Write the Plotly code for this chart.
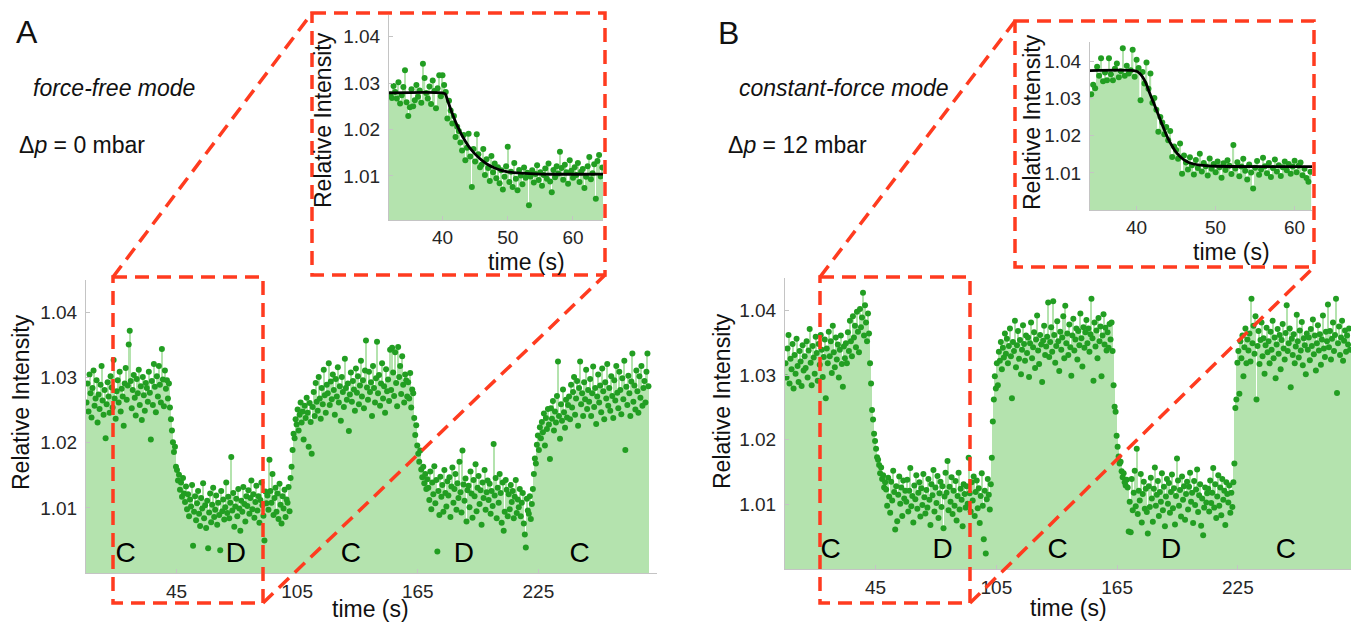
import plotly.graph_objects as go

# ---------------- data ----------------
# main panels: samples every 0.5 s starting at 0.25 s
MAIN_T0 = 0.25
MAIN_DT = 0.5

a_main = [
 1.0262, 1.0291, 1.0248, 1.0305, 1.0276, 1.0239, 1.0284, 1.0311, 1.0257, 1.0268,
 1.0296, 1.0231, 1.0274, 1.0252, 1.0289, 1.0318, 1.0265, 1.0243, 1.0281, 1.0207,
 1.0259, 1.0293, 1.0271, 1.0246, 1.0302, 1.0285, 1.0254, 1.0327, 1.0268, 1.0237,
 1.0279, 1.0296, 1.0262, 1.0309, 1.0248, 1.0283, 1.0271, 1.0226, 1.0291, 1.0315,
 1.0266, 1.0288, 1.0351, 1.0372, 1.0295, 1.0253, 1.0281, 1.0304, 1.0269, 1.0242,
 1.0298, 1.0276, 1.0312, 1.0258, 1.0287, 1.0235, 1.0301, 1.0273, 1.0249, 1.0292,
 1.0284, 1.0263, 1.0309, 1.0277, 1.0205, 1.0295, 1.0258, 1.0321, 1.0286, 1.0247,
 1.0302, 1.0271, 1.0318, 1.0289, 1.0262, 1.0344, 1.0297, 1.0256, 1.0311, 1.0283,
 1.0296, 1.0268, 1.0291, 1.0254, 1.0236, 1.0219, 1.0201, 1.0186, 1.0194, 1.0163,
 1.0158, 1.0142, 1.0151, 1.0128, 1.0139, 1.0117, 1.0146, 1.0122, 1.0109, 1.0133,
 1.0098, 1.0121, 1.0087, 1.0113, 1.0102, 1.0135, 1.0042, 1.0094, 1.0118, 1.0081,
 1.0107, 1.0126, 1.0091, 1.0072, 1.0115, 1.0099, 1.0138, 1.0084, 1.0104, 1.0069,
 1.0111, 1.0038, 1.0093, 1.0122, 1.0078, 1.0105, 1.0131, 1.0086, 1.0097, 1.0119,
 1.0074, 1.0108, 1.0089, 1.0035, 1.0126, 1.0095, 1.0113, 1.0082, 1.0101, 1.0139,
 1.0092, 1.0117, 1.0084, 1.0108, 1.0178, 1.0096, 1.0123, 1.0071, 1.0102, 1.0114,
 1.0087, 1.0129, 1.0099, 1.0065, 1.0111, 1.0094, 1.0132, 1.0106, 1.0079, 1.0118,
 1.0103, 1.0127, 1.0091, 1.0115, 1.0142, 1.0098, 1.0121, 1.0085, 1.0109, 1.0134,
 1.0096, 1.0118, 1.0077, 1.0112, 1.0139, 1.0104, 1.0088, 1.0050, 1.0125, 1.0107,
 1.0119, 1.0097, 1.0174, 1.0126, 1.0108, 1.0152, 1.0089, 1.0115, 1.0131, 1.0094,
 1.0122, 1.0083, 1.0137, 1.0105, 1.0076, 1.0118, 1.0099, 1.0128, 1.0086, 1.0113,
 1.0108, 1.0132, 1.0095, 1.0146, 1.0163, 1.0189, 1.0214, 1.0207, 1.0236, 1.0228,
 1.0251, 1.0219, 1.0243, 1.0262, 1.0231, 1.0248, 1.0205, 1.0257, 1.0238, 1.0269,
 1.0246, 1.0194, 1.0261, 1.0232, 1.0183, 1.0255, 1.0278, 1.0241, 1.0292, 1.0263,
 1.0249, 1.0301, 1.0268, 1.0237, 1.0284, 1.0259, 1.0312, 1.0273, 1.0246, 1.0289,
 1.0276, 1.0322, 1.0258, 1.0294, 1.0267, 1.0305, 1.0281, 1.0243, 1.0298, 1.0271,
 1.0316, 1.0262, 1.0287, 1.0234, 1.0301, 1.0278, 1.0255, 1.0329, 1.0284, 1.0266,
 1.0291, 1.0218, 1.0274, 1.0308, 1.0263, 1.0295, 1.0282, 1.0249, 1.0314, 1.0277,
 1.0302, 1.0259, 1.0288, 1.0326, 1.0271, 1.0296, 1.0253, 1.0311, 1.0357, 1.0285,
 1.0266, 1.0309, 1.0278, 1.0293, 1.0241, 1.0318, 1.0284, 1.0262, 1.0299, 1.0355,
 1.0276, 1.0304, 1.0257, 1.0291, 1.0322, 1.0268, 1.0287, 1.0246, 1.0313, 1.0279,
 1.0297, 1.0264, 1.0343, 1.0281, 1.0346, 1.0308, 1.0272, 1.0339, 1.0292, 1.0256,
 1.0347, 1.0301, 1.0318, 1.0275, 1.0333, 1.0289, 1.0262, 1.0305, 1.0296, 1.0271,
 1.0293, 1.0268, 1.0307, 1.0254, 1.0282, 1.0276, 1.0238, 1.0212, 1.0227, 1.0196,
 1.0183, 1.0171, 1.0188, 1.0159, 1.0147, 1.0163, 1.0138, 1.0152, 1.0129, 1.0144,
 1.0131, 1.0112, 1.0156, 1.0098, 1.0139, 1.0121, 1.0164, 1.0107, 1.0143, 1.0033,
 1.0126, 1.0089, 1.0148, 1.0117, 1.0135, 1.0094, 1.0158, 1.0123, 1.0102, 1.0141,
 1.0119, 1.0147, 1.0086, 1.0133, 1.0162, 1.0108, 1.0129, 1.0152, 1.0097, 1.0138,
 1.0115, 1.0171, 1.0124, 1.0093, 1.0188, 1.0136, 1.0111, 1.0145, 1.0079, 1.0127,
 1.0134, 1.0101, 1.0156, 1.0122, 1.0085, 1.0143, 1.0118, 1.0167, 1.0095, 1.0131,
 1.0149, 1.0106, 1.0127, 1.0074, 1.0139, 1.0115, 1.0158, 1.0097, 1.0124, 1.0142,
 1.0112, 1.0137, 1.0091, 1.0126, 1.0103, 1.0198, 1.0119, 1.0146, 1.0084, 1.0131,
 1.0108, 1.0152, 1.0123, 1.0077, 1.0139, 1.0065, 1.0094, 1.0143, 1.0128, 1.0087,
 1.0121, 1.0098, 1.0135, 1.0109, 1.0126, 1.0084, 1.0117, 1.0143, 1.0092, 1.0113,
 1.0101, 1.0129, 1.0087, 1.0108, 1.0123, 1.0076, 1.0059, 1.0039, 1.0114, 1.0096,
 1.0091, 1.0118, 1.0083, 1.0106, 1.0129, 1.0152, 1.0176, 1.0168, 1.0197, 1.0211,
 1.0189, 1.0224, 1.0207, 1.0232, 1.0216, 1.0245, 1.0196, 1.0238, 1.0221, 1.0252,
 1.0228, 1.0175, 1.0253, 1.0237, 1.0264, 1.0219, 1.0248, 1.0231, 1.0272, 1.0325,
 1.0241, 1.0206, 1.0259, 1.0234, 1.0282, 1.0247, 1.0223, 1.0266, 1.0239, 1.0258,
 1.0271, 1.0236, 1.0289, 1.0254, 1.0278, 1.0301, 1.0243, 1.0268, 1.0295, 1.0226,
 1.0284, 1.0325, 1.0259, 1.0276, 1.0241, 1.0293, 1.0267, 1.0312, 1.0252, 1.0281,
 1.0263, 1.0298, 1.0241, 1.0276, 1.0317, 1.0255, 1.0284, 1.0229, 1.0271, 1.0305,
 1.0262, 1.0288, 1.0247, 1.0314, 1.0279, 1.0236, 1.0293, 1.0268, 1.0321, 1.0257,
 1.0284, 1.0249, 1.0302, 1.0272, 1.0238, 1.0296, 1.0265, 1.0318, 1.0277, 1.0253,
 1.0309, 1.0281, 1.0244, 1.0299, 1.0267, 1.0326, 1.0189, 1.0286, 1.0258, 1.0303,
 1.0276, 1.0241, 1.0294, 1.0337, 1.0263, 1.0288, 1.0251, 1.0311, 1.0279, 1.0246,
 1.0302, 1.0269, 1.0318, 1.0257, 1.0284, 1.0295, 1.0262, 1.0309, 1.0337, 1.0287,
]

b_main = [
 1.0318, 1.0296, 1.0341, 1.0362, 1.0287, 1.0325, 1.0309, 1.0348, 1.0279, 1.0331,
 1.0302, 1.0356, 1.0314, 1.0289, 1.0337, 1.0321, 1.0283, 1.0346, 1.0307, 1.0329,
 1.0311, 1.0352, 1.0296, 1.0338, 1.0371, 1.0319, 1.0284, 1.0345, 1.0327, 1.0302,
 1.0359, 1.0334, 1.0291, 1.0348, 1.0316, 1.0362, 1.0339, 1.0297, 1.0328, 1.0355,
 1.0264, 1.0341, 1.0318, 1.0367, 1.0329, 1.0352, 1.0303, 1.0376, 1.0335, 1.0312,
 1.0358, 1.0324, 1.0347, 1.0296, 1.0339, 1.0361, 1.0317, 1.0282, 1.0344, 1.0326,
 1.0349, 1.0318, 1.0366, 1.0337, 1.0384, 1.0352, 1.0329, 1.0391, 1.0358, 1.0376,
 1.0343, 1.0398, 1.0367, 1.0335, 1.0402, 1.0374, 1.0389, 1.0427, 1.0361, 1.0408,
 1.0381, 1.0352, 1.0395, 1.0364, 1.0318, 1.0287, 1.0246, 1.0231, 1.0209, 1.0198,
 1.0186, 1.0173, 1.0169, 1.0161, 1.0148, 1.0157, 1.0139, 1.0145, 1.0126, 1.0134,
 1.0123, 1.0098, 1.0141, 1.0112, 1.0087, 1.0135, 1.0106, 1.0152, 1.0119, 1.0061,
 1.0128, 1.0074, 1.0115, 1.0143, 1.0101, 1.0126, 1.0082, 1.0137, 1.0109, 1.0121,
 1.0104, 1.0138, 1.0089, 1.0121, 1.0156, 1.0097, 1.0113, 1.0072, 1.0129, 1.0108,
 1.0145, 1.0093, 1.0118, 1.0134, 1.0081, 1.0125, 1.0099, 1.0147, 1.0111, 1.0086,
 1.0122, 1.0095, 1.0139, 1.0107, 1.0068, 1.0131, 1.0114, 1.0153, 1.0089, 1.0126,
 1.0102, 1.0144, 1.0079, 1.0117, 1.0135, 1.0096, 1.0128, 1.0063, 1.0112, 1.0149,
 1.0118, 1.0167, 1.0091, 1.0127, 1.0104, 1.0142, 1.0085, 1.0121, 1.0098, 1.0136,
 1.0075, 1.0113, 1.0149, 1.0092, 1.0124, 1.0107, 1.0066, 1.0131, 1.0116, 1.0095,
 1.0128, 1.0101, 1.0172, 1.0117, 1.0089, 1.0134, 1.0106, 1.0143, 1.0082, 1.0119,
 1.0137, 1.0094, 1.0125, 1.0071, 1.0113, 1.0148, 1.0098, 1.0046, 1.0121, 1.0024,
 1.0108, 1.0139, 1.0115, 1.0092, 1.0131, 1.0172, 1.0228, 1.0262, 1.0298, 1.0279,
 1.0318, 1.0284, 1.0336, 1.0322, 1.0351, 1.0309, 1.0342, 1.0327, 1.0364, 1.0333,
 1.0356, 1.0318, 1.0345, 1.0372, 1.0329, 1.0264, 1.0351, 1.0337, 1.0384, 1.0312,
 1.0346, 1.0368, 1.0325, 1.0354, 1.0301, 1.0339, 1.0377, 1.0348, 1.0322, 1.0361,
 1.0334, 1.0358, 1.0297, 1.0349, 1.0381, 1.0326, 1.0343, 1.0366, 1.0311, 1.0355,
 1.0392, 1.0338, 1.0317, 1.0362, 1.0347, 1.0289, 1.0353, 1.0376, 1.0331, 1.0344,
 1.0359, 1.0412, 1.0328, 1.0351, 1.0374, 1.0336, 1.0414, 1.0362, 1.0319, 1.0345,
 1.0383, 1.0352, 1.0306, 1.0367, 1.0339, 1.0358, 1.0391, 1.0326, 1.0407, 1.0349,
 1.0364, 1.0331, 1.0378, 1.0343, 1.0299, 1.0361, 1.0387, 1.0338, 1.0355, 1.0372,
 1.0324, 1.0368, 1.0346, 1.0395, 1.0357, 1.0313, 1.0374, 1.0342, 1.0366, 1.0385,
 1.0349, 1.0372, 1.0336, 1.0363, 1.0418, 1.0357, 1.0291, 1.0381, 1.0344, 1.0369,
 1.0326, 1.0388, 1.0352, 1.0375, 1.0298, 1.0361, 1.0394, 1.0347, 1.0373, 1.0338,
 1.0366, 1.0342, 1.0379, 1.0355, 1.0381, 1.0337, 1.0284, 1.0251, 1.0243, 1.0206,
 1.0189, 1.0174, 1.0163, 1.0166, 1.0151, 1.0142, 1.0148, 1.0134, 1.0129, 1.0138,
 1.0126, 1.0058, 1.0104, 1.0057, 1.0139, 1.0091, 1.0118, 1.0152, 1.0097, 1.0186,
 1.0085, 1.0121, 1.0106, 1.0147, 1.0072, 1.0116, 1.0135, 1.0093, 1.0124, 1.0088,
 1.0055, 1.0128, 1.0096, 1.0141, 1.0109, 1.0073, 1.0124, 1.0157, 1.0098, 1.0115,
 1.0136, 1.0082, 1.0119, 1.0104, 1.0148, 1.0091, 1.0127, 1.0066, 1.0112, 1.0139,
 1.0101, 1.0133, 1.0087, 1.0119, 1.0146, 1.0094, 1.0125, 1.0069, 1.0113, 1.0171,
 1.0137, 1.0098, 1.0122, 1.0081, 1.0143, 1.0107, 1.0128, 1.0076, 1.0116, 1.0135,
 1.0092, 1.0127, 1.0149, 1.0104, 1.0118, 1.0071, 1.0136, 1.0099, 1.0123, 1.0154,
 1.0088, 1.0114, 1.0131, 1.0067, 1.0109, 1.0052, 1.0095, 1.0126, 1.0103, 1.0117,
 1.0124, 1.0089, 1.0137, 1.0102, 1.0118, 1.0156, 1.0095, 1.0131, 1.0079, 1.0112,
 1.0145, 1.0098, 1.0126, 1.0083, 1.0139, 1.0107, 1.0121, 1.0068, 1.0134, 1.0116,
 1.0103, 1.0129, 1.0087, 1.0118, 1.0096, 1.0134, 1.0163, 1.0249, 1.0262, 1.0319,
 1.0337, 1.0271, 1.0352, 1.0326, 1.0361, 1.0298, 1.0343, 1.0372, 1.0318, 1.0355,
 1.0338, 1.0364, 1.0321, 1.0418, 1.0349, 1.0376, 1.0333, 1.0391, 1.0262, 1.0345,
 1.0368, 1.0317, 1.0354, 1.0381, 1.0329, 1.0357, 1.0302, 1.0346, 1.0373, 1.0335,
 1.0352, 1.0318, 1.0367, 1.0339, 1.0384, 1.0326, 1.0358, 1.0295, 1.0347, 1.0371,
 1.0333, 1.0362, 1.0309, 1.0354, 1.0379, 1.0341, 1.0324, 1.0365, 1.0408, 1.0337,
 1.0349, 1.0372, 1.0281, 1.0356, 1.0331, 1.0363, 1.0318, 1.0344, 1.0393, 1.0352,
 1.0327, 1.0369, 1.0338, 1.0382, 1.0315, 1.0357, 1.0346, 1.0301, 1.0364, 1.0339,
 1.0358, 1.0323, 1.0371, 1.0345, 1.0386, 1.0332, 1.0361, 1.0307, 1.0349, 1.0377,
 1.0338, 1.0363, 1.0316, 1.0355, 1.0392, 1.0341, 1.0328, 1.0367, 1.0352, 1.0409,
 1.0343, 1.0368, 1.0324, 1.0356, 1.0381, 1.0337, 1.0362, 1.0418, 1.0272, 1.0349,
 1.0375, 1.0331, 1.0358, 1.0384, 1.0322, 1.0353, 1.0369, 1.0336, 1.0361, 1.0347,
 1.0372, 1.0339,
]

# insets: samples every 0.25 s
INSET_DT = 0.25
A_INSET_T0 = 32.0
a_inset = [
 1.0276, 1.0268, 1.0294, 1.0281, 1.0267, 1.0302, 1.0256, 1.0274, 1.0292, 1.0328,
 1.0259, 1.0229, 1.0248, 1.0287, 1.0250, 1.0263, 1.0296, 1.0271, 1.0284, 1.0258,
 1.0342, 1.0311, 1.0279, 1.0267, 1.0293, 1.0255, 1.0306, 1.0283, 1.0246, 1.0289,
 1.0317, 1.0272, 1.0317, 1.0296,
 1.0281, 1.0224, 1.0262, 1.0241, 1.0213, 1.0229, 1.0184, 1.0206, 1.0197, 1.0172,
 1.0155, 1.0188, 1.0134, 1.0161, 1.0191, 1.0142, 1.0076, 1.0158, 1.0131, 1.0190,
 1.0147, 1.0119,
 1.0124, 1.0158, 1.0102, 1.0136, 1.0117, 1.0089, 1.0143, 1.0108, 1.0127, 1.0095,
 1.0119, 1.0084, 1.0112, 1.0071, 1.0098, 1.0121, 1.0163, 1.0087, 1.0109, 1.0076,
 1.0128, 1.0094, 1.0069, 1.0113, 1.0101, 1.0082, 1.0118, 1.0096, 1.0107, 1.0037,
 1.0099, 1.0112, 1.0086, 1.0104, 1.0123, 1.0091, 1.0108, 1.0079, 1.0102, 1.0116,
 1.0094, 1.0127, 1.0088, 1.0065, 1.0113, 1.0097, 1.0121, 1.0105, 1.0152, 1.0117,
 1.0092, 1.0124, 1.0108, 1.0083, 1.0134, 1.0111, 1.0096, 1.0119, 1.0102, 1.0128,
 1.0087, 1.0109, 1.0115, 1.0074, 1.0098, 1.0121, 1.0141, 1.0093, 1.0106, 1.0125,
 1.0051, 1.0132, 1.0145, 1.0099, 1.0118,
]

B_INSET_T0 = 34.25
b_inset = [
 1.0312, 1.0338, 1.0328, 1.0386, 1.0362, 1.0409, 1.0347, 1.0371, 1.0350, 1.0409,
 1.0366, 1.0350, 1.0381, 1.0395, 1.0358, 1.0374, 1.0436, 1.0362, 1.0389, 1.0368,
 1.0377, 1.0432, 1.0359, 1.0405,
 1.0383, 1.0296, 1.0372, 1.0341, 1.0398, 1.0327, 1.0368, 1.0289, 1.0302, 1.0270,
 1.0211, 1.0251, 1.0236, 1.0204, 1.0224, 1.0188, 1.0213, 1.0143, 1.0171, 1.0162,
 1.0138, 1.0179, 1.0098, 1.0147,
 1.0128, 1.0109, 1.0142, 1.0121, 1.0096, 1.0135, 1.0113, 1.0152, 1.0104, 1.0127,
 1.0118, 1.0093, 1.0139, 1.0111, 1.0124, 1.0102, 1.0131, 1.0115, 1.0087, 1.0126,
 1.0108, 1.0134, 1.0119, 1.0097, 1.0175, 1.0112, 1.0129, 1.0091, 1.0117, 1.0138,
 1.0106, 1.0082, 1.0123, 1.0101, 1.0058, 1.0114, 1.0132, 1.0095, 1.0109, 1.0141,
 1.0118, 1.0099, 1.0127, 1.0089, 1.0113, 1.0136, 1.0104, 1.0121, 1.0092, 1.0115,
 1.0131, 1.0107, 1.0124, 1.0098, 1.0117, 1.0133, 1.0102, 1.0119, 1.0128, 1.0094,
 1.0111, 1.0086, 1.0076, 1.0103,
]

# fitted curves in the insets
a_fit_t = [31.8, 40.0, 40.4, 40.8, 41.2, 41.6, 42.0, 42.5, 43.0, 43.5, 44.0,
           44.5, 45.0, 46.0, 47.0, 48.0, 49.0, 50.0, 52.0, 55.0, 64.6]
a_fit_v = [1.0279, 1.0279, 1.0277, 1.0262, 1.0246, 1.0231, 1.0217, 1.0201,
           1.0187, 1.0175, 1.0164, 1.0155, 1.0147, 1.0134, 1.0124, 1.0117,
           1.0112, 1.0109, 1.0106, 1.0104, 1.0104]
b_fit_t = [34.1, 39.6, 40.0, 40.4, 40.8, 41.2, 41.6, 42.0, 42.4, 42.8, 43.2,
           43.6, 44.0, 44.4, 44.8, 45.2, 45.6, 46.0, 46.6, 47.2, 48.0, 49.0,
           50.0, 62.2]
b_fit_v = [1.0376, 1.0376, 1.0374, 1.0368, 1.0357, 1.0341, 1.0318, 1.0297,
           1.0276, 1.0254, 1.0232, 1.0211, 1.0192, 1.0176, 1.0162, 1.0151,
           1.0142, 1.0135, 1.0128, 1.0124, 1.0121, 1.0119, 1.0118, 1.0117]

# phase labels
phase_labels = ["C", "D", "C", "D", "C"]
a_label_t = [19.7, 74.6, 131.8, 188.0, 245.5]
b_label_t = [22.7, 78.3, 135.5, 191.8, 248.9]
label_level = 1.0028

main_xticks = [45, 105, 165, 225]
inset_xticks = [40, 50, 60]
yticks = [1.01, 1.02, 1.03, 1.04]

# ---------------- figure ----------------
W, H = 1351, 622
FONT = "Liberation Sans, Arial, sans-serif"
FILL = "#b4e3ae"
DOT = "#229e22"
RED = "#ff3b1f"


def fx(p):
    return p / W


def fy(p):
    return 1 - p / H


a_time = [MAIN_T0 + i * MAIN_DT for i in range(len(a_main))]
b_time = [MAIN_T0 + i * MAIN_DT for i in range(len(b_main))]
ai_time = [A_INSET_T0 + i * INSET_DT for i in range(len(a_inset))]
bi_time = [B_INSET_T0 + i * INSET_DT for i in range(len(b_inset))]

fig = go.Figure()


def add_series(t, v, xa, ya, width, msize):
    fig.add_trace(go.Bar(x=t, y=v, width=width, marker=dict(color=FILL, line_width=0),
                         xaxis=xa, yaxis=ya, hoverinfo="skip"))
    fig.add_trace(go.Scatter(x=t, y=v, mode="markers",
                             marker=dict(color=DOT, size=msize, line_width=0),
                             xaxis=xa, yaxis=ya))


add_series(a_time, a_main, "x", "y", MAIN_DT, 6)
add_series(b_time, b_main, "x2", "y2", MAIN_DT, 6)
add_series(ai_time, a_inset, "x3", "y3", INSET_DT * 0.75, 6)
add_series(bi_time, b_inset, "x4", "y4", INSET_DT * 0.75, 6)

fig.add_trace(go.Scatter(x=a_fit_t, y=a_fit_v, mode="lines",
                         line=dict(color="black", width=2.8, shape="spline"),
                         xaxis="x3", yaxis="y3"))
fig.add_trace(go.Scatter(x=b_fit_t, y=b_fit_v, mode="lines",
                         line=dict(color="black", width=2.8, shape="spline"),
                         xaxis="x4", yaxis="y4"))

for lt, xa, ya in [(a_label_t, "x", "y"), (b_label_t, "x2", "y2")]:
    fig.add_trace(go.Scatter(x=lt, y=[label_level] * len(lt), mode="text", text=phase_labels,
                             textposition="middle center",
                             textfont=dict(family=FONT, size=28, color="black"),
                             xaxis=xa, yaxis=ya))

axis_common = dict(showgrid=False, zeroline=False, showline=True, linecolor="#c4c4c4",
                   linewidth=1, ticks="inside", ticklen=4, tickcolor="#c4c4c4",
                   tickfont=dict(family=FONT, size=19, color="#262626"), fixedrange=True)

fig.update_layout(
    width=W, height=H, margin=dict(l=0, r=0, t=0, b=0),
    paper_bgcolor="white", plot_bgcolor="rgba(0,0,0,0)", showlegend=False,
    xaxis=dict(domain=[fx(86), fx(657)], range=[0, 284], tickvals=main_xticks, anchor="y",
               ticklabelstandoff=1, **axis_common),
    yaxis=dict(domain=[fy(573), fy(280)], range=[1.0, 1.045], tickvals=yticks, anchor="x",
               tickformat=".2f", ticklabelstandoff=4, **axis_common),
    xaxis2=dict(domain=[fx(785), 1.0], range=[0, 281.2], tickvals=main_xticks, anchor="y2",
                ticklabelstandoff=1, **axis_common),
    yaxis2=dict(domain=[fy(569), fy(278)], range=[1.0, 1.045], tickvals=yticks, anchor="x2",
                tickformat=".2f", ticklabelstandoff=4, **axis_common),
    xaxis3=dict(domain=[fx(389), fx(603)], range=[31.8, 64.6], tickvals=inset_xticks, anchor="y3",
                ticklabelstandoff=0, **axis_common),
    yaxis3=dict(domain=[fy(220), fy(15)], range=[1.0005, 1.0447], tickvals=yticks, anchor="x3",
                tickformat=".2f", ticklabelstandoff=4, **axis_common),
    xaxis4=dict(domain=[fx(1090), fx(1312)], range=[34.1, 62.2], tickvals=inset_xticks, anchor="y4",
                ticklabelstandoff=0, **axis_common),
    yaxis4=dict(domain=[fy(210), fy(42)], range=[1.0, 1.0453], tickvals=yticks, anchor="x4",
                tickformat=".2f", ticklabelstandoff=4, **axis_common),
)


def note(text, x, y, size=23, angle=0, italic=False):
    fig.add_annotation(text=text, x=fx(x), y=fy(y), xref="paper", yref="paper",
                       xanchor="center", yanchor="middle", showarrow=False, textangle=angle,
                       font=dict(family=FONT, size=size, color="#111111",
                                 style="italic" if italic else "normal"))


note("Relative Intensity", 21, 402, angle=-90)
note("Relative Intensity", 722, 401, angle=-90)
note("Relative Intensity", 323, 120, angle=-90)
note("Relative Intensity", 1032, 122, angle=-90)
note("time (s)", 370, 609)
note("time (s)", 1068, 608)
note("time (s)", 526, 262)
note("time (s)", 1231, 252)
note("A", 27, 32, size=32)
note("B", 728, 33, size=32)
note("force-free mode", 114, 88, italic=True)
note("constant-force mode", 844, 88, italic=True)
note("Δ<i>p</i> = 0 mbar", 82, 145)
note("Δ<i>p</i> = 12 mbar", 797, 145)

DASH = "14px,8px"


def rect(x0, y0, x1, y1):
    fig.add_shape(type="rect", xref="paper", yref="paper", x0=fx(x0), x1=fx(x1),
                  y0=fy(y0), y1=fy(y1), line=dict(color=RED, width=3.5, dash=DASH),
                  fillcolor="rgba(0,0,0,0)", layer="above")


def seg(x0, y0, x1, y1):
    fig.add_shape(type="line", xref="paper", yref="paper", x0=fx(x0), x1=fx(x1),
                  y0=fy(y0), y1=fy(y1), line=dict(color=RED, width=3.5, dash=DASH),
                  layer="above")


rect(113, 277, 263, 603)
rect(312, 13, 605, 275)
seg(113, 277, 312, 13)
seg(263, 603, 605, 275)
rect(820, 277, 970, 603)
rect(1015, 21, 1314, 267)
seg(820, 277, 1015, 21)
seg(970, 603, 1314, 267)

fig.write_html("out.html", config={"displayModeBar": False},
               post_script="document.body.style.margin='0';document.body.style.overflow='hidden';")
